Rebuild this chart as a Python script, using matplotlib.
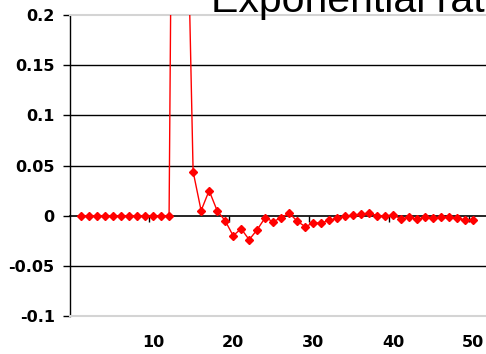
import matplotlib
matplotlib.use("Agg")
import matplotlib.pyplot as plt
import numpy as np

# Series values, one per period
periods = list(range(1, 51))
rates = [0, 0, 0, 0, 0, 0, 0, 0, 0, 0,
         0, 0, 1.05, 0.42, 0.044, 0.005, 0.025, 0.005, -0.005, -0.020,
         -0.013, -0.024, -0.014, -0.002, -0.006, -0.002, 0.0025, -0.0055, -0.011, -0.0073,
         -0.0073, -0.0047, -0.0027, -0.0007, 0.0007, 0.0013, 0.0027, 0.0, 0.0, 0.0003,
         -0.003, -0.0017, -0.0037, -0.0017, -0.0027, -0.0017, -0.0017, -0.0027, -0.0043, -0.0047]

y_ticks = [-0.1, -0.05, 0, 0.05, 0.1, 0.15, 0.2]
y_tick_labels = ["-0.1", "-0.05", "0", "0.05", "0.1", "0.15", "0.2"]
x_ticks = [10, 20, 30, 40, 50]
x_tick_labels = ["10", "20", "30", "40", "50"]
x_minor = [9.5, 19.5, 29.5, 39.5, 49.5]
grid_levels = [-0.05, 0.05, 0.1, 0.15]
title = "Exponential rate"

W, H = 486, 354
fig = plt.figure(figsize=(W / 100, H / 100), dpi=100)
fig.patch.set_facecolor("white")

left_px, right_px, top_px, bottom_px = 70, 495, 15, 316
ax = fig.add_axes([left_px / W, (H - bottom_px) / H,
                   (right_px - left_px) / W, (bottom_px - top_px) / H])

ax.set_ylim(-0.1, 0.2)
ax.set_xlim(-0.373, 52.7)

for lv in grid_levels:
    ax.axhline(lv, color="black", lw=1.0, zorder=1)

ax.plot(periods, rates, color="red", lw=1.0, marker="D", markersize=4.3,
        markerfacecolor="red", markeredgecolor="red", zorder=3, clip_on=True)

label_font = dict(family="DejaVu Sans", weight="bold", size=11.5)

# y axis
ax.set_yticks(y_ticks)
ax.set_yticklabels(y_tick_labels, fontdict=label_font)
ax.tick_params(axis="y", direction="out", length=5, width=1, color="black", pad=6)
ax.spines["left"].set_color("black")
ax.spines["left"].set_linewidth(1)

# frame of plot area
for side in ("top", "bottom", "right"):
    ax.spines[side].set_color("#d4d4d4")
    ax.spines[side].set_linewidth(1.5)

# category labels along the bottom edge
ax.set_xticks(x_ticks)
ax.set_xticklabels(x_tick_labels, fontdict=label_font)
ax.tick_params(axis="x", length=0, pad=13.5)

# horizontal axis line at zero with its tick marks
zero_frac = (0 - (-0.1)) / 0.3
sec = ax.secondary_xaxis(zero_frac)
sec.set_xticks(x_minor)
sec.set_xticklabels([])
sec.tick_params(direction="out", length=4.3, width=1, color="black")
sec.spines["bottom"].set_color("black")
sec.spines["bottom"].set_linewidth(1.2)

fig.text(211 / W, (H - 12) / H, title, family="Liberation Sans", size=29.5,
         ha="left", va="baseline", color="black")

fig.savefig("out.png", dpi=100)
